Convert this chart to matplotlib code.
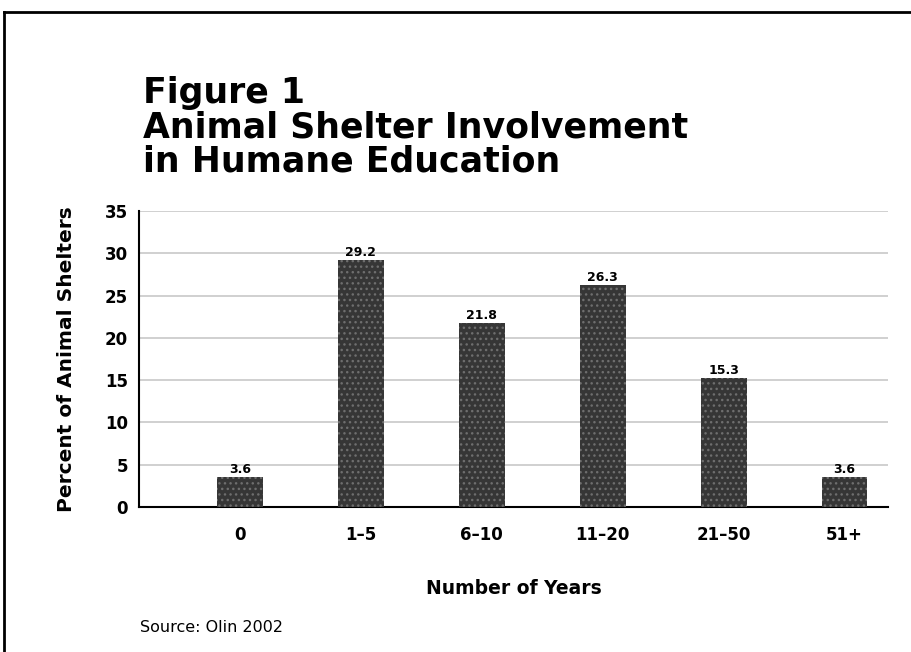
import matplotlib
matplotlib.use("Agg")
import matplotlib.pyplot as plt
from matplotlib.lines import Line2D

categories = ["0", "1\u20135", "6\u201310", "11\u201320", "21\u201350", "51+"]
values = [3.6, 29.2, 21.8, 26.3, 15.3, 3.6]
y_ticks = [0, 5, 10, 15, 20, 25, 30, 35]

plt.rcParams['font.family'] = ['DejaVu Sans']
plt.rcParams['hatch.linewidth'] = 1.0

fig = plt.figure(figsize=(9.12, 6.52), dpi=100)
ax = fig.add_axes([0.1524, 0.2224, 0.8213, 0.454])

x = list(range(len(categories)))
bars = ax.bar(x, values, width=0.38, color='#363636', edgecolor='#6e6e6e',
              hatch='...', linewidth=0, zorder=3)

for xi, v in zip(x, values):
    ax.text(xi, v + 0.1, f"{v:.1f}", ha='center', va='bottom',
            fontsize=9, fontweight='bold', zorder=4)

ax.set_xlim(-0.835, 5.36)
ax.set_ylim(0, 35)
ax.set_yticks(y_ticks)
ax.set_yticklabels([str(t) for t in y_ticks], fontsize=12, fontweight='bold')
ax.set_xticks(x)
ax.set_xticklabels(categories, fontsize=12, fontweight='bold')
ax.tick_params(axis='both', length=0)
ax.tick_params(axis='y', pad=8)
ax.tick_params(axis='x', pad=14)

ax.yaxis.grid(True, color='#c8c8c8', linewidth=1.2, zorder=0)
ax.set_axisbelow(True)
for s in ['top', 'right']:
    ax.spines[s].set_visible(False)
ax.spines['left'].set_linewidth(1.5)
ax.spines['bottom'].set_linewidth(1.5)

ax.set_ylabel("Percent of Animal Shelters", fontsize=14.5, fontweight='bold', labelpad=21)
ax.set_xlabel("Number of Years", fontsize=13.5, fontweight='bold', labelpad=25)

title_lines = ["Figure 1", "Animal Shelter Involvement", "in Humane Education"]
baselines = [103, 138, 172]
for t, yb in zip(title_lines, baselines):
    fig.text(143 / 912, 1 - yb / 652, t, fontsize=25, fontweight='bold',
             va='baseline', ha='left')

fig.text(140 / 912, 1 - 632 / 652, "Source: Olin 2002", fontsize=11.5, va='baseline', ha='left')

# frame around the figure
fig.add_artist(Line2D([4 / 912, 1.0], [1 - 12 / 652, 1 - 12 / 652],
                      transform=fig.transFigure, color='black', linewidth=2))
fig.add_artist(Line2D([4 / 912, 4 / 912], [0, 1 - 12 / 652],
                      transform=fig.transFigure, color='black', linewidth=2))

fig.savefig("out.png", dpi=100)
